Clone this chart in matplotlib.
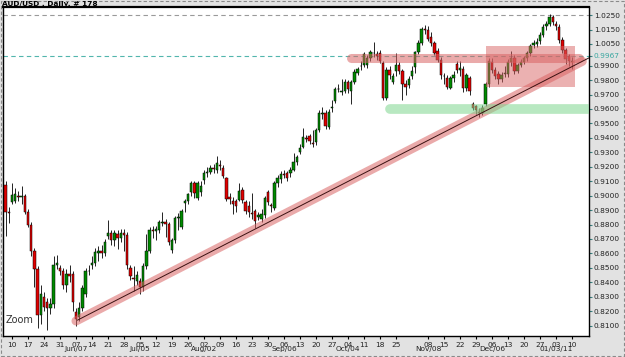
import numpy as np
import matplotlib.pyplot as plt
from matplotlib.patches import Rectangle
from matplotlib.transforms import blended_transform_factory

# AUD/USD daily bars, index 0 = Mon 10 May 2010, last bar = Mon 10 Jan 2011
first_bar = -2

opens = [0.9075, 0.8890,
         0.8955, 0.8965, 0.9000, 0.8990, 0.8995,
         0.8890, 0.8800, 0.8620, 0.8490, 0.8170,
         0.8300, 0.8260, 0.8220, 0.8250, 0.8520,
         0.8500, 0.8480, 0.8380, 0.8460, 0.8460,
         0.8195, 0.8160, 0.8225, 0.8320, 0.8480,
         0.8520, 0.8535, 0.8600, 0.8620, 0.8600,
         0.8720, 0.8740, 0.8690, 0.8735, 0.8710,
         0.8740, 0.8725, 0.8500, 0.8430, 0.8410,
         0.8410, 0.8370, 0.8510, 0.8620, 0.8760,
         0.8755, 0.8765, 0.8810, 0.8820, 0.8805,
         0.8625, 0.8695, 0.8845, 0.8785, 0.8950,
         0.8965, 0.9025, 0.9085, 0.8985, 0.9025,
         0.9105, 0.9155, 0.9165, 0.9190, 0.9175,
         0.9215, 0.9190, 0.9125, 0.8990, 0.8960,
         0.8960, 0.8970, 0.9040, 0.8955, 0.8930,
         0.8880, 0.8895, 0.8855, 0.8840, 0.8865,
         0.9025, 0.8935, 0.8915, 0.9085, 0.9115,
         0.9150, 0.9160, 0.9155, 0.9180, 0.9235,
         0.9305, 0.9340, 0.9400, 0.9410, 0.9365,
         0.9370, 0.9455, 0.9565, 0.9570, 0.9475,
         0.9605, 0.9655, 0.9735, 0.9720, 0.9725,
         0.9785, 0.9725, 0.9785, 0.9850, 0.9895,
         0.9905, 0.9905, 0.9955, 0.9990, 0.9980,
         0.9985, 0.9915, 0.9675, 0.9870, 0.9790,
         0.9865, 0.9905, 0.9860, 0.9770, 0.9765,
         0.9825, 0.9890, 0.9995, 1.0055, 1.0155,
         1.0150, 1.0095, 1.0055, 1.0000, 0.9940,
         0.9830, 0.9815, 0.9745, 0.9815, 0.9910,
         0.9870, 0.9880, 0.9745, 0.9815, 0.9635,
         0.9620, 0.9580, 0.9575, 0.9635, 0.9770,
         0.9925, 0.9870, 0.9840, 0.9805, 0.9840,
         0.9845, 0.9925, 0.9955, 0.9865, 0.9905,
         0.9925, 0.9950, 0.9990, 1.0040, 1.0050,
         1.0070, 1.0115, 1.0175, 1.0190, 1.0240,
         1.0190, 1.0170, 1.0075, 1.0005, 0.9965,
         0.9925]

highs = [0.9100, 0.8920,
         0.9085, 0.9050, 0.9030, 0.9065, 0.9010,
         0.8910, 0.8820, 0.8640, 0.8510, 0.8380,
         0.8330, 0.8290, 0.8290, 0.8585, 0.8590,
         0.8520, 0.8500, 0.8490, 0.8520, 0.8480,
         0.8220, 0.8265, 0.8380, 0.8500, 0.8520,
         0.8580, 0.8640, 0.8650, 0.8660, 0.8700,
         0.8830, 0.8760, 0.8760, 0.8760, 0.8770,
         0.8770, 0.8750, 0.8520, 0.8510, 0.8480,
         0.8430, 0.8530, 0.8735, 0.8780, 0.8790,
         0.8790, 0.8830, 0.8890, 0.8840, 0.8820,
         0.8710, 0.8860, 0.8880, 0.8910, 0.8980,
         0.9020, 0.9100, 0.9100, 0.9100, 0.9100,
         0.9175, 0.9200, 0.9210, 0.9220, 0.9275,
         0.9245, 0.9210, 0.9130, 0.9020, 0.8990,
         0.8980, 0.9090, 0.9060, 0.8970, 0.8960,
         0.9020, 0.8910, 0.8890, 0.8905, 0.9000,
         0.9040, 0.8950, 0.9100, 0.9140, 0.9170,
         0.9175, 0.9170, 0.9195, 0.9295, 0.9280,
         0.9355, 0.9465, 0.9420, 0.9430, 0.9455,
         0.9470, 0.9590, 0.9615, 0.9590, 0.9600,
         0.9660, 0.9750, 0.9770, 0.9805, 0.9810,
         0.9800, 0.9800, 0.9875, 0.9890, 0.9930,
         0.9995, 0.9975, 1.0010, 1.0065, 1.0000,
         1.0005, 0.9935, 0.9890, 0.9895, 0.9850,
         0.9990, 0.9925, 0.9880, 0.9800, 0.9830,
         0.9900, 1.0000, 1.0080, 1.0170, 1.0183,
         1.0175, 1.0130, 1.0070, 1.0025, 0.9960,
         0.9850, 0.9835, 0.9830, 0.9860, 0.9930,
         0.9930, 0.9900, 0.9850, 0.9830, 0.9650,
         0.9630, 0.9610, 0.9630, 0.9790, 0.9950,
         0.9950, 0.9890, 0.9860, 0.9855, 0.9900,
         0.9945, 1.0000, 0.9975, 0.9920, 0.9945,
         0.9970, 1.0000, 1.0050, 1.0075, 1.0090,
         1.0130, 1.0185, 1.0210, 1.0255, 1.0250,
         1.0210, 1.0190, 1.0095, 1.0020, 0.9980,
         0.9960]

lows = [0.8720, 0.8810,
        0.8945, 0.8950, 0.8960, 0.8940, 0.8870,
        0.8780, 0.8580, 0.8370, 0.8080, 0.8110,
        0.8200, 0.8070, 0.8180, 0.8220, 0.8490,
        0.8450, 0.8350, 0.8330, 0.8400, 0.8200,
        0.8095, 0.8130, 0.8200, 0.8300, 0.8450,
        0.8490, 0.8510, 0.8550, 0.8570, 0.8580,
        0.8700, 0.8660, 0.8650, 0.8630, 0.8680,
        0.8620, 0.8490, 0.8415, 0.8340, 0.8380,
        0.8320, 0.8340, 0.8490, 0.8600, 0.8710,
        0.8695, 0.8740, 0.8790, 0.8715, 0.8660,
        0.8600, 0.8670, 0.8760, 0.8770, 0.8890,
        0.8940, 0.9000, 0.8985, 0.8970, 0.9000,
        0.9080, 0.9130, 0.9150, 0.9160, 0.9160,
        0.9180, 0.9120, 0.8960, 0.8940, 0.8875,
        0.8890, 0.8960, 0.8950, 0.8870, 0.8850,
        0.8835, 0.8775, 0.8830, 0.8820, 0.8845,
        0.8935, 0.8885, 0.8900, 0.9060, 0.9090,
        0.9120, 0.9100, 0.9130, 0.9170, 0.9210,
        0.9285, 0.9330, 0.9370, 0.9360, 0.9340,
        0.9350, 0.9440, 0.9530, 0.9460, 0.9460,
        0.9580, 0.9640, 0.9720, 0.9700, 0.9710,
        0.9710, 0.9635, 0.9770, 0.9835, 0.9870,
        0.9890, 0.9885, 0.9930, 0.9960, 0.9940,
        0.9920, 0.9660, 0.9660, 0.9810, 0.9770,
        0.9825, 0.9840, 0.9665, 0.9700, 0.9745,
        0.9810, 0.9850, 0.9980, 1.0040, 1.0120,
        1.0070, 1.0035, 0.9975, 0.9925, 0.9810,
        0.9770, 0.9735, 0.9735, 0.9790, 0.9850,
        0.9830, 0.9720, 0.9725, 0.9700, 0.9590,
        0.9565, 0.9545, 0.9555, 0.9620, 0.9750,
        0.9850, 0.9805, 0.9770, 0.9790, 0.9820,
        0.9820, 0.9900, 0.9840, 0.9850, 0.9890,
        0.9910, 0.9930, 0.9970, 1.0020, 1.0030,
        1.0050, 1.0100, 1.0150, 1.0175, 1.0180,
        1.0150, 1.0060, 0.9990, 0.9910, 0.9900,
        0.9875]

closes = [0.8890, 0.8880,
          0.9005, 0.9010, 0.8990, 0.8995, 0.8890,
          0.8800, 0.8620, 0.8490, 0.8170, 0.8320,
          0.8230, 0.8220, 0.8250, 0.8520, 0.8530,
          0.8480, 0.8380, 0.8460, 0.8440, 0.8260,
          0.8145, 0.8225, 0.8360, 0.8480, 0.8475,
          0.8535, 0.8610, 0.8620, 0.8600, 0.8680,
          0.8740, 0.8690, 0.8740, 0.8705, 0.8740,
          0.8725, 0.8520, 0.8440, 0.8425, 0.8450,
          0.8370, 0.8510, 0.8620, 0.8765, 0.8755,
          0.8770, 0.8815, 0.8820, 0.8805, 0.8680,
          0.8695, 0.8845, 0.8855, 0.8895, 0.8960,
          0.9010, 0.9085, 0.9020, 0.9085, 0.9065,
          0.9155, 0.9165, 0.9190, 0.9185, 0.9225,
          0.9205, 0.9135, 0.8980, 0.8980, 0.8945,
          0.8925, 0.9035, 0.8970, 0.8895, 0.8890,
          0.8875, 0.8825, 0.8865, 0.8875, 0.8985,
          0.8955, 0.8925, 0.9085, 0.9120, 0.9150,
          0.9145, 0.9120, 0.9175, 0.9235, 0.9270,
          0.9330, 0.9405, 0.9395, 0.9380, 0.9360,
          0.9455, 0.9575, 0.9570, 0.9480, 0.9580,
          0.9615, 0.9735, 0.9740, 0.9725, 0.9785,
          0.9735, 0.9785, 0.9855, 0.9875, 0.9900,
          0.9980, 0.9955, 0.9995, 0.9985, 0.9970,
          0.9935, 0.9675, 0.9870, 0.9835, 0.9830,
          0.9905, 0.9860, 0.9775, 0.9755, 0.9810,
          0.9865, 0.9995, 1.0060, 1.0155, 1.0150,
          1.0085, 1.0055, 0.9990, 0.9940, 0.9835,
          0.9825, 0.9755, 0.9815, 0.9835, 0.9870,
          0.9885, 0.9745, 0.9835, 0.9725, 0.9610,
          0.9590, 0.9575, 0.9610, 0.9770, 0.9935,
          0.9870, 0.9830, 0.9805, 0.9835, 0.9850,
          0.9925, 0.9955, 0.9865, 0.9905, 0.9925,
          0.9950, 0.9985, 1.0035, 1.0055, 1.0065,
          1.0115, 1.0170, 1.0190, 1.0240, 1.0200,
          1.0175, 1.0080, 1.0005, 0.9945, 0.9935,
          0.9935]

# axis labels
price_ticks = [1.0250, 1.0150, 1.0050, 0.9900, 0.9800, 0.9700, 0.9600, 0.9500,
               0.9400, 0.9300, 0.9200, 0.9100, 0.9000, 0.8900, 0.8800, 0.8700,
               0.8600, 0.8500, 0.8400, 0.8300, 0.8200, 0.8100]
bid_price = 0.9967
top_level = 1.0250

tick_days = ['10', '17', '24', '31', '07', '14', '21', '28', '05', '12', '19', '26',
             '02', '09', '16', '23', '30', '06', '13', '20', '27', '04', '11', '18',
             '25', '08', '15', '22', '29', '06', '13', '20', '27', '03', '10']
tick_months = ['', '', '', '', 'Jun/07', '', '', '', 'Jul/05', '', '', '',
               'Aug/02', '', '', '', '', 'Sep/06', '', '', '', 'Oct/04', '', '',
               '', 'Nov/08', '', '', '', 'Dec/06', '', '', '', '01/03/11', '']
tick_bars = [b for b in range(0, 180, 5) if b != 125]  # Nov/01 label not shown

# drawn objects (bar index, price)
trend_start = (20, 0.8132)
trend_end = (180.5, 0.9956)
band_end = 178.2
resistance = (106.0, 177.3, 0.9953)
support = (118.0, 183.0, 0.9603)
box = (148.1, 175.9, 0.9752, 1.0036)

fs = 5.3
fig = plt.figure(figsize=(6.25, 3.57), dpi=100, facecolor='#e2e2e2')
ax = fig.add_axes([3/625, 21/357, 586/625, 329/357])
ax.set_facecolor('white')

o = np.array(opens); h = np.array(highs); l = np.array(lows); c = np.array(closes)
x = np.arange(first_bar, first_bar + len(c))
up = c >= o
ax.vlines(x, l, h, color='black', lw=0.6, zorder=2)
ax.bar(x, np.maximum(np.abs(c - o), 0.0004), bottom=np.minimum(o, c), width=0.75,
       color=np.where(up, '#008a00', '#e00000'), edgecolor='black', linewidth=0.35, zorder=3)

# level lines
ax.axhline(top_level, color='#9a9a9a', lw=0.8, ls=(0, (4, 3)), zorder=1)
ax.axhline(bid_price, color='#52b6ad', lw=0.8, ls=(0, (4, 3)), zorder=1)

# trendline
slope = (trend_end[1] - trend_start[1]) / (trend_end[0] - trend_start[0])
ax.plot([trend_start[0], band_end],
        [trend_start[1], trend_start[1] + (band_end - trend_start[0]) * slope],
        color='#d96464', alpha=0.55, lw=6.5, solid_capstyle='round', zorder=5)
ax.plot([trend_start[0] + 0.5, trend_end[0]], [trend_start[1] + 0.0006, trend_end[1]],
        color='#3a1010', lw=0.7, zorder=6)

# resistance / support bands and box
ax.plot(resistance[:2], [resistance[2]] * 2, color='#d96464', alpha=0.55, lw=6.5,
        solid_capstyle='round', zorder=5)
ax.plot(support[:2], [support[2]] * 2, color='#7fd68f', alpha=0.55, lw=7,
        solid_capstyle='round', zorder=5)
ax.add_patch(Rectangle((box[0], box[2]), box[1] - box[0], box[3] - box[2],
                       facecolor='#d96464', alpha=0.5, edgecolor='none', zorder=5))

ax.set_xlim(-2.8, 180.3)
ax.set_ylim(0.8028, 1.0306)

# axes look
for s in ax.spines.values():
    s.set_color('black')
    s.set_linewidth(1.0)
ax.spines['top'].set_linewidth(1.6)
ax.yaxis.tick_right()
ax.set_yticks(price_ticks + [bid_price])
ax.set_yticklabels(['%.4f' % p for p in price_ticks] + ['%.4f' % bid_price])
ax.tick_params(axis='y', direction='out', length=2.5, width=0.8, colors='#3a7f7f',
               labelsize=fs, labelcolor='#222222', pad=1)
ax.get_yticklabels()[-1].set_color('#3aa7a0')

ax.set_xticks(tick_bars)
ax.set_xticklabels(tick_days)
ax.tick_params(axis='x', direction='out', length=2.5, width=0.8, colors='black',
               labelsize=fs, labelcolor='#222222', pad=1.5)

# month row under the day numbers
trans = blended_transform_factory(ax.transData, ax.transAxes)
for b, m in zip(tick_bars, tick_months):
    if m:
        ax.text(b, -0.041, m, transform=trans, fontsize=fs, color='#222222',
                ha='center', va='center', clip_on=False)

ax.text(0.004, 0.05, 'Zoom', transform=ax.transAxes, fontsize=7, color='#333333',
        va='center', ha='left')
fig.text(2/625, 1 - 4/357, 'AUD/USD , Daily, # 178', fontsize=fs, color='black',
         va='center', ha='left', fontweight='bold')

fig.patches.append(Rectangle((0.001, 0.002), 0.997, 0.995, transform=fig.transFigure,
                             fill=False, edgecolor='#8a8a8a', lw=0.8, ls=(0, (3, 2))))

fig.savefig('out.png', dpi=100, facecolor=fig.get_facecolor())
